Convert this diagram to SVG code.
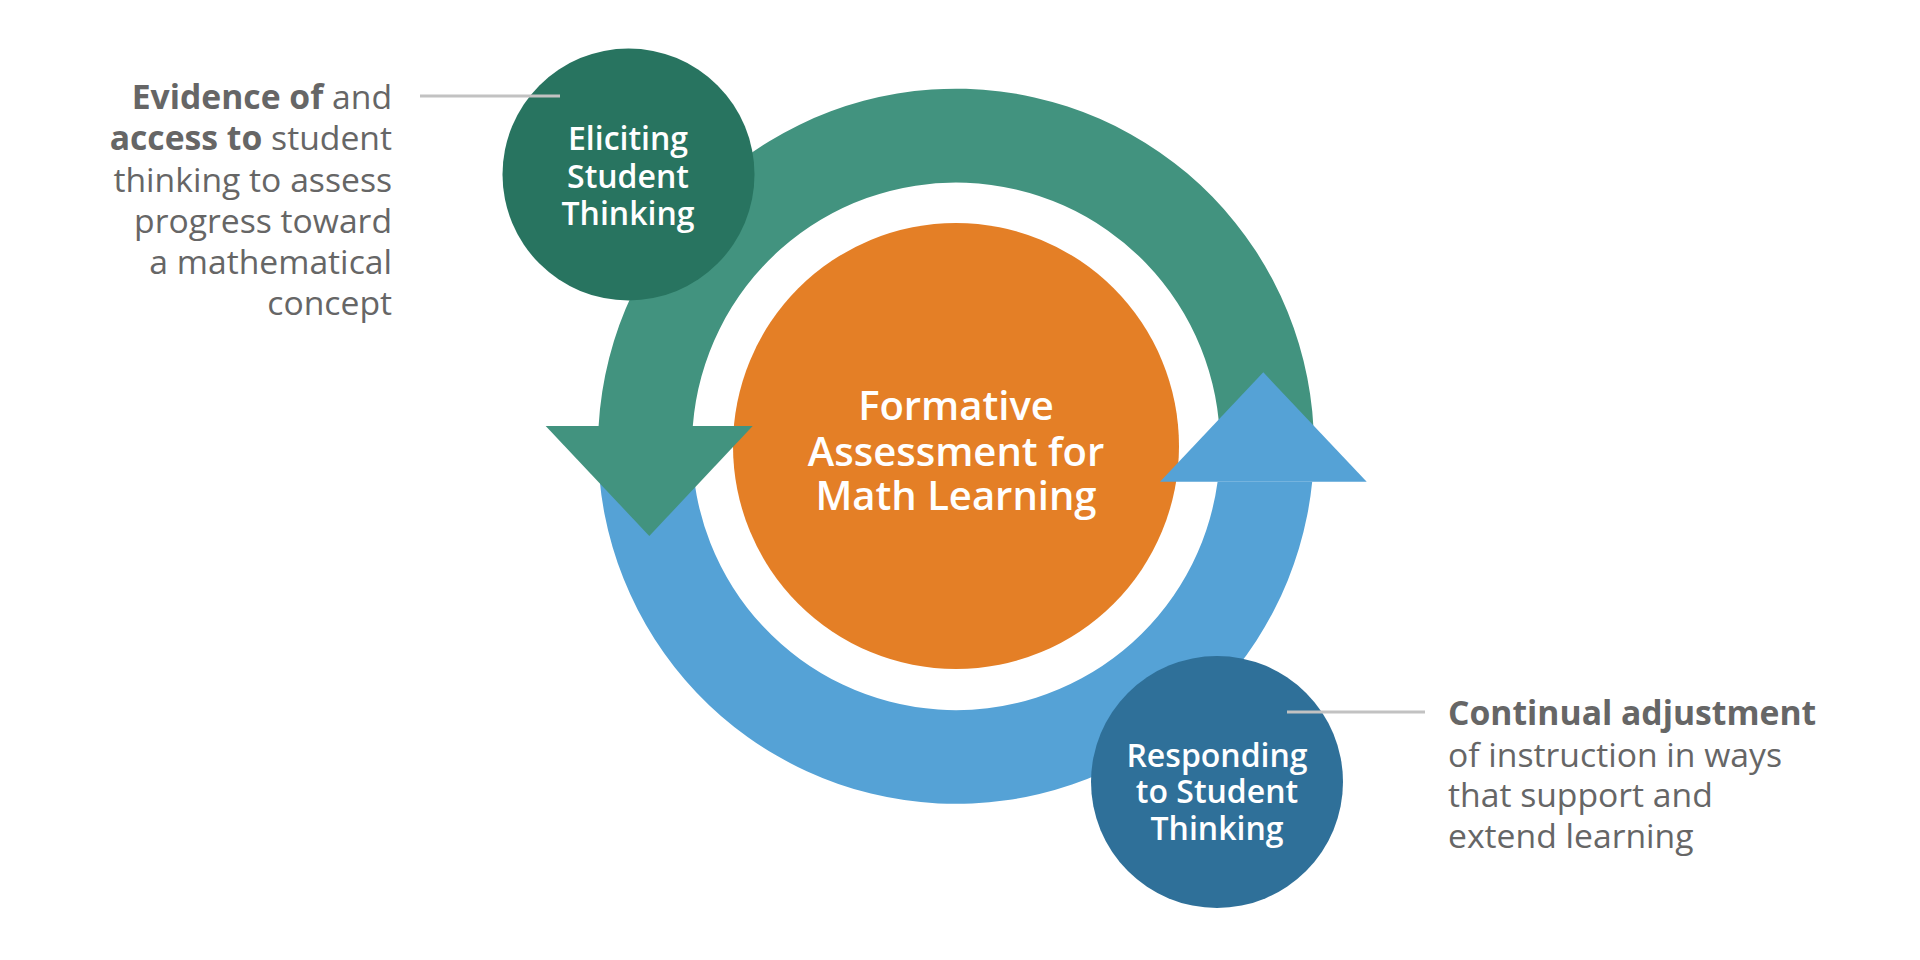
<svg xmlns="http://www.w3.org/2000/svg" width="1920" height="960" viewBox="0 0 1920 960">
  <style>
    .side { font-family: "Open Sans", "Liberation Sans", sans-serif; font-size: 33.7px; fill: #666666; }
    .b { font-weight: bold; }
    .node { font-family: "Open Sans", "Liberation Sans", sans-serif; font-size: 32px; font-weight: 600; fill: #ffffff; text-anchor: middle; }
    .center { font-family: "Open Sans", "Liberation Sans", sans-serif; font-size: 40px; font-weight: 600; fill: #ffffff; text-anchor: middle; }
    .conn { stroke: #C2C2C2; stroke-width: 3; fill: none; }
  </style>
  <rect width="1920" height="960" fill="#ffffff"/>

  <g id="center-node">
    <circle cx="956" cy="446" r="223" fill="#E47F26"/>
    <text class="center" x="956" y="420">Formative</text>
    <text class="center" x="956" y="466">Assessment for</text>
    <text class="center" x="956" y="510">Math Learning</text>
  </g>

  <g id="cycle">
    <path id="blue-ring" fill="#55A2D6" d="M 1312.2 481.7 A 358 358 0 0 1 598 446 L 692 446 A 264 264 0 0 0 1217.6 481.7 Z"/>
    <path id="teal-ring" fill="#42937F" d="M 598.6 426 A 358 358 0 0 1 1314 446 L 1220 446 A 264 264 0 0 0 692.8 426 Z"/>
    <polygon id="teal-head" fill="#42937F" points="545.7,426 752.7,426 649.3,536"/>
    <polygon id="blue-head" fill="#55A2D6" points="1160,481.7 1366.7,481.7 1263.3,372.3"/>
  </g>

  <g id="eliciting">
    <circle cx="628.5" cy="174.5" r="126" fill="#287460"/>
    <text class="node" x="628" y="150">Eliciting</text>
    <text class="node" x="628" y="188">Student</text>
    <text class="node" x="628" y="225">Thinking</text>
  </g>

  <g id="responding">
    <circle cx="1217" cy="782" r="126" fill="#2F7099"/>
    <text class="node" x="1217" y="767">Responding</text>
    <text class="node" x="1217" y="803">to Student</text>
    <text class="node" x="1217" y="840">Thinking</text>
  </g>

  <g id="connectors">
    <line class="conn" x1="420" y1="96" x2="560" y2="96"/>
    <line class="conn" x1="1287" y1="712" x2="1425" y2="712"/>
  </g>

  <g id="note-left" text-anchor="end">
    <text class="side" x="392" y="109"><tspan class="b">Evidence of</tspan> and</text>
    <text class="side" x="392" y="150"><tspan class="b">access to</tspan> student</text>
    <text class="side" x="392" y="192">thinking to assess</text>
    <text class="side" x="392" y="233">progress toward</text>
    <text class="side" x="392" y="274">a mathematical</text>
    <text class="side" x="392" y="315">concept</text>
  </g>

  <g id="note-right">
    <text class="side b" x="1448" y="725">Continual adjustment</text>
    <text class="side" x="1448" y="767">of instruction in ways</text>
    <text class="side" x="1448" y="807">that support and</text>
    <text class="side" x="1448" y="848">extend learning</text>
  </g>
</svg>
